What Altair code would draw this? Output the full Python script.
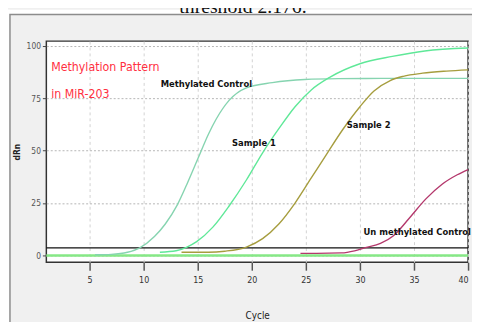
import altair as alt
import pandas as pd

# ---- data ----
mc_cycle = [5.5, 7, 8.5, 9.6, 11, 12, 13.1, 14, 15, 16, 16.7, 17.9, 19.5, 21.9, 24.9, 28, 32, 36, 40]
mc_val = [0.3, 0.5, 1.5, 3.5, 9, 15, 24, 34, 46, 58, 65, 74, 80, 82.5, 84, 84.4, 84.5, 84.5, 84.5]

s1_cycle = [11.5, 13, 14, 14.9, 16.4, 17.9, 19.5, 21, 22.5, 24, 25.5, 27.2, 30, 33, 36, 40]
s1_val = [1.5, 2.2, 4, 6.6, 13.5, 23.6, 36, 49, 60.5, 71, 79, 85, 91.5, 95, 97.6, 99]

s2_cycle = [13.5, 16, 17.5, 19.5, 21, 22.5, 24, 25.5, 27, 28.4, 30, 31.3, 32.8, 34, 35.8, 38, 40]
s2_val = [1.5, 1.5, 2, 4, 8, 15, 25, 37, 49, 60, 71, 78.5, 83.5, 85.5, 87, 88, 88.6]

um_cycle = [24.5, 26, 28.3, 29.5, 30.5, 31.9, 33.1, 34.6, 36.1, 37.6, 39, 40]
um_val = [1.0, 1.0, 1.2, 2.2, 3.7, 5.7, 9.4, 18, 27, 34, 38.5, 41]

series_names = ["Methylated Control", "Sample 1", "Sample 2", "Un methylated Control"]
series_colors = ["#86d4b0", "#5fe898", "#a69d3e", "#b4386c"]

threshold = [3.6]
baseline = [0]

label_text = ["Methylated Control", "Sample 1", "Sample 2", "Un methylated Control"]
label_cycle = [15.8, 20.2, 30.8, 35.3]
label_val = [81.7, 53.5, 62, 11.3]

red_text = ["Methylation Pattern", "in MiR-203"]
red_cycle = [1.45, 1.45]
red_val = [90.1, 77]

x_ticks = [5, 10, 15, 20, 25, 30, 35, 40]
y_ticks = [0, 25, 50, 75, 100]

NARROW = "DejaVu Sans Condensed, Liberation Sans Narrow, Arial Narrow, sans-serif"

# ---- tables ----
rows = []
for name, cs, vs in zip(series_names, [mc_cycle, s1_cycle, s2_cycle, um_cycle],
                        [mc_val, s1_val, s2_val, um_val]):
    for c, v in zip(cs, vs):
        rows.append({"series": name, "cycle": c, "v": v})
curves = pd.DataFrame(rows)
labels = pd.DataFrame({"text": label_text, "cycle": label_cycle, "v": label_val})
reds = pd.DataFrame({"text": red_text, "cycle": red_cycle, "v": red_val})
dummy = pd.DataFrame({"a": [0]})

X = alt.X("cycle:Q", scale=alt.Scale(domain=[1, 40], nice=False, zero=False),
          axis=alt.Axis(values=x_ticks, grid=True, gridDash=[3, 3], gridColor="#d2d2d2",
                        tickSize=8, tickColor="#555", tickWidth=1.5, domain=False,
                        labelFont=NARROW, labelFontSize=9, labelColor="#333", labelPadding=6,
                        title="Cycle", titleFont=NARROW, titleFontSize=10,
                        titleFontWeight="normal", titleColor="#222", titlePadding=26))
Y = alt.Y("v:Q", scale=alt.Scale(domain=[-3.3, 102.3], nice=False, zero=False),
          axis=alt.Axis(values=y_ticks, grid=True, gridDash=[2, 2], gridColor="#b5b5b5",
                        tickSize=4, tickColor="#444", domain=False,
                        labelFont=NARROW, labelFontSize=8.5, labelColor="#555", labelPadding=2,
                        title="dRn", titleFont=NARROW, titleFontSize=8.5,
                        titleFontWeight="bold", titleColor="#222", titlePadding=5))

top_strip = alt.Chart(dummy).mark_rect(fill="white").encode(
    x=alt.value(-40), x2=alt.value(440), y=alt.value(-32), y2=alt.value(-27))
left_strip = alt.Chart(dummy).mark_rect(fill="white").encode(
    x=alt.value(-40), x2=alt.value(-37), y=alt.value(-32), y2=alt.value(300))
panel = alt.Chart(dummy).mark_rect(fillOpacity=0, stroke="#8c8c8c", strokeWidth=1.5).encode(
    x=alt.value(-37), x2=alt.value(460), y=alt.value(-27), y2=alt.value(320))
top_text = alt.Chart(dummy).mark_text(font="Liberation Serif", fontSize=20, color="#111",
                                      baseline="alphabetic", align="center").encode(
    x=alt.value(200), y=alt.value(-29), text=alt.value("threshold 2.176."))

base_rule = alt.Chart(pd.DataFrame({"v": baseline})).mark_rule(
    color="#86e886", strokeWidth=2.5).encode(y=Y)
thr_rule = alt.Chart(pd.DataFrame({"v": threshold})).mark_rule(
    color="#111", strokeWidth=1.5).encode(y=Y)

lines = alt.Chart(curves).mark_line(strokeWidth=1.4, interpolate="monotone").encode(
    x=X, y=Y,
    color=alt.Color("series:N", scale=alt.Scale(domain=series_names, range=series_colors),
                    legend=None),
    detail="series:N")

lab = alt.Chart(labels).mark_text(font=NARROW, fontSize=9.5, fontWeight="bold",
                                  color="#111").encode(x=X, y=Y, text="text:N")
red = alt.Chart(reds).mark_text(font=NARROW, fontSize=12.5, color="#ff2f3f",
                                align="left").encode(x=X, y=Y, text="text:N")

chart = alt.layer(top_strip, left_strip, panel, top_text, base_rule, thr_rule, lines, lab, red).properties(
    width=429, height=225,
    autosize=alt.AutoSizeParams(type="none"),
    padding={"left": 39, "top": 31, "right": 4, "bottom": 58},
    background="#f0f0f0",
).configure_view(stroke="#333", strokeWidth=1.5, fill="white")

chart.save("out.html", embed_options={"renderer": "svg", "actions": False})
